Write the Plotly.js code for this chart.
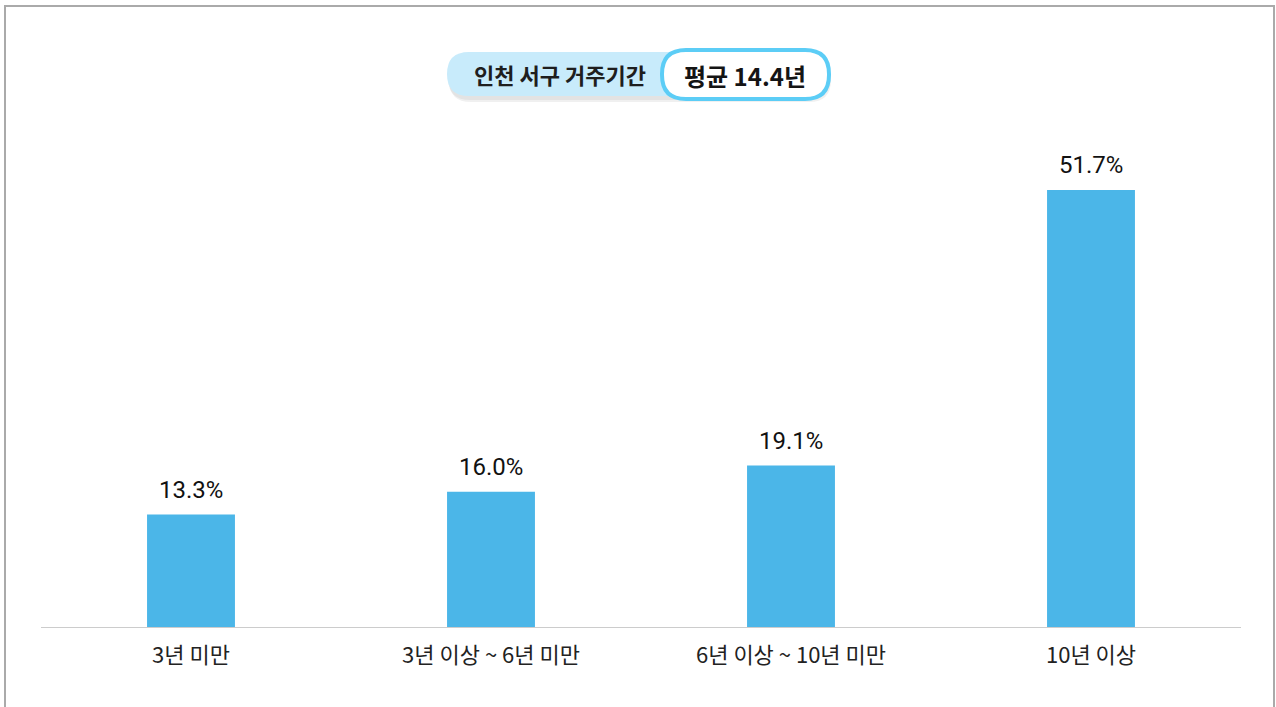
<!DOCTYPE html>
<html>
<head>
<meta charset="utf-8">
<script src="https://cdn.plot.ly/plotly-3.0.1.min.js"></script>
<style>
html,body{margin:0;padding:0;background:#fff;}
#chart{width:1276px;height:707px;}
</style>
</head>
<body>
<div id="chart"></div>
<script>
const categories = ["3년 미만", "3년 이상 ~ 6년 미만", "6년 이상 ~ 10년 미만", "10년 이상"];
const values = [13.3, 16.0, 19.1, 51.7];
const valueLabels = ["13.3%", "16.0%", "19.1%", "51.7%"];
const titleLeft = "인천 서구 거주기간";
const titleRight = "평균 14.4년";

const W = 1276, H = 707;
const M = {l: 41, r: 35, t: 130, b: 80};
const PW = W - M.l - M.r, PH = H - M.t - M.b;
const px = x => (x - M.l) / PW;
const py = y => (H - M.b - y) / PH;

function roundRect(x0, y0, x1, y1, r) {
  const p = (x, y) => px(x) + ',' + py(y);
  return 'M' + p(x0 + r, y0) + ' L' + p(x1 - r, y0) +
    ' Q' + p(x1, y0) + ' ' + p(x1, y0 + r) +
    ' L' + p(x1, y1 - r) +
    ' Q' + p(x1, y1) + ' ' + p(x1 - r, y1) +
    ' L' + p(x0 + r, y1) +
    ' Q' + p(x0, y1) + ' ' + p(x0, y1 - r) +
    ' L' + p(x0, y0 + r) +
    ' Q' + p(x0, y0) + ' ' + p(x0 + r, y0) + ' Z';
}

const shapes = [
  {type: 'rect', xref: 'paper', yref: 'paper', x0: px(5), x1: px(1274), y0: py(6), y1: py(720),
   line: {color: '#aaaaaa', width: 2}, fillcolor: 'rgba(0,0,0,0)', layer: 'below'},
  {type: 'path', xref: 'paper', yref: 'paper', path: roundRect(449, 57, 831, 102, 22),
   fillcolor: 'rgba(0,0,0,0.06)', line: {width: 0}},
  {type: 'path', xref: 'paper', yref: 'paper', path: roundRect(448, 55, 830, 100, 22),
   fillcolor: 'rgba(0,0,0,0.05)', line: {width: 0}},
  {type: 'path', xref: 'paper', yref: 'paper', path: roundRect(447, 52, 700, 96, 22),
   fillcolor: '#c8ebfb', line: {width: 0}},
  {type: 'path', xref: 'paper', yref: 'paper', path: roundRect(662, 50, 829, 99, 24),
   fillcolor: '#ffffff', line: {color: '#5ccdf6', width: 4}}
];

const annotations = [
  {xref: 'paper', yref: 'paper', x: px(560), y: py(74), text: titleLeft, showarrow: false,
   xanchor: 'center', yanchor: 'middle',
   font: {family: 'Noto Sans CJK KR', size: 22, color: '#1e1e1e', weight: 700}},
  {xref: 'paper', yref: 'paper', x: px(745), y: py(75), text: titleRight, showarrow: false,
   xanchor: 'center', yanchor: 'middle',
   font: {family: 'Noto Sans CJK KR', size: 24, color: '#141414', weight: 700}}
];
categories.forEach((c, i) => {
  annotations.push({
    xref: 'x', yref: 'y', x: c, y: values[i], text: valueLabels[i], showarrow: false,
    xanchor: 'center', yanchor: 'bottom', yshift: 9,
    font: {family: 'Roboto, Noto Sans CJK KR', size: 24, color: '#111111'}
  });
});

const trace = {
  type: 'bar',
  x: categories,
  y: values,
  marker: {color: '#4bb6e8'},
  width: 0.293,
  hoverinfo: 'skip'
};

const layout = {
  width: W, height: H,
  margin: M,
  paper_bgcolor: '#ffffff',
  plot_bgcolor: '#ffffff',
  showlegend: false,
  xaxis: {
    showline: true, linecolor: '#cccccc', linewidth: 1,
    showgrid: false, zeroline: false, ticks: '',
    ticklabelstandoff: 9,
    tickfont: {family: 'Noto Sans CJK KR', size: 22, color: '#222222'},
    fixedrange: true
  },
  yaxis: {
    range: [0, PH / (437 / 51.7)],
    showgrid: false, zeroline: false, showline: false, showticklabels: false, ticks: '',
    fixedrange: true
  },
  shapes: shapes,
  annotations: annotations
};

Plotly.newPlot('chart', [trace], layout, {displayModeBar: false, staticPlot: true});
</script>
</body>
</html>
